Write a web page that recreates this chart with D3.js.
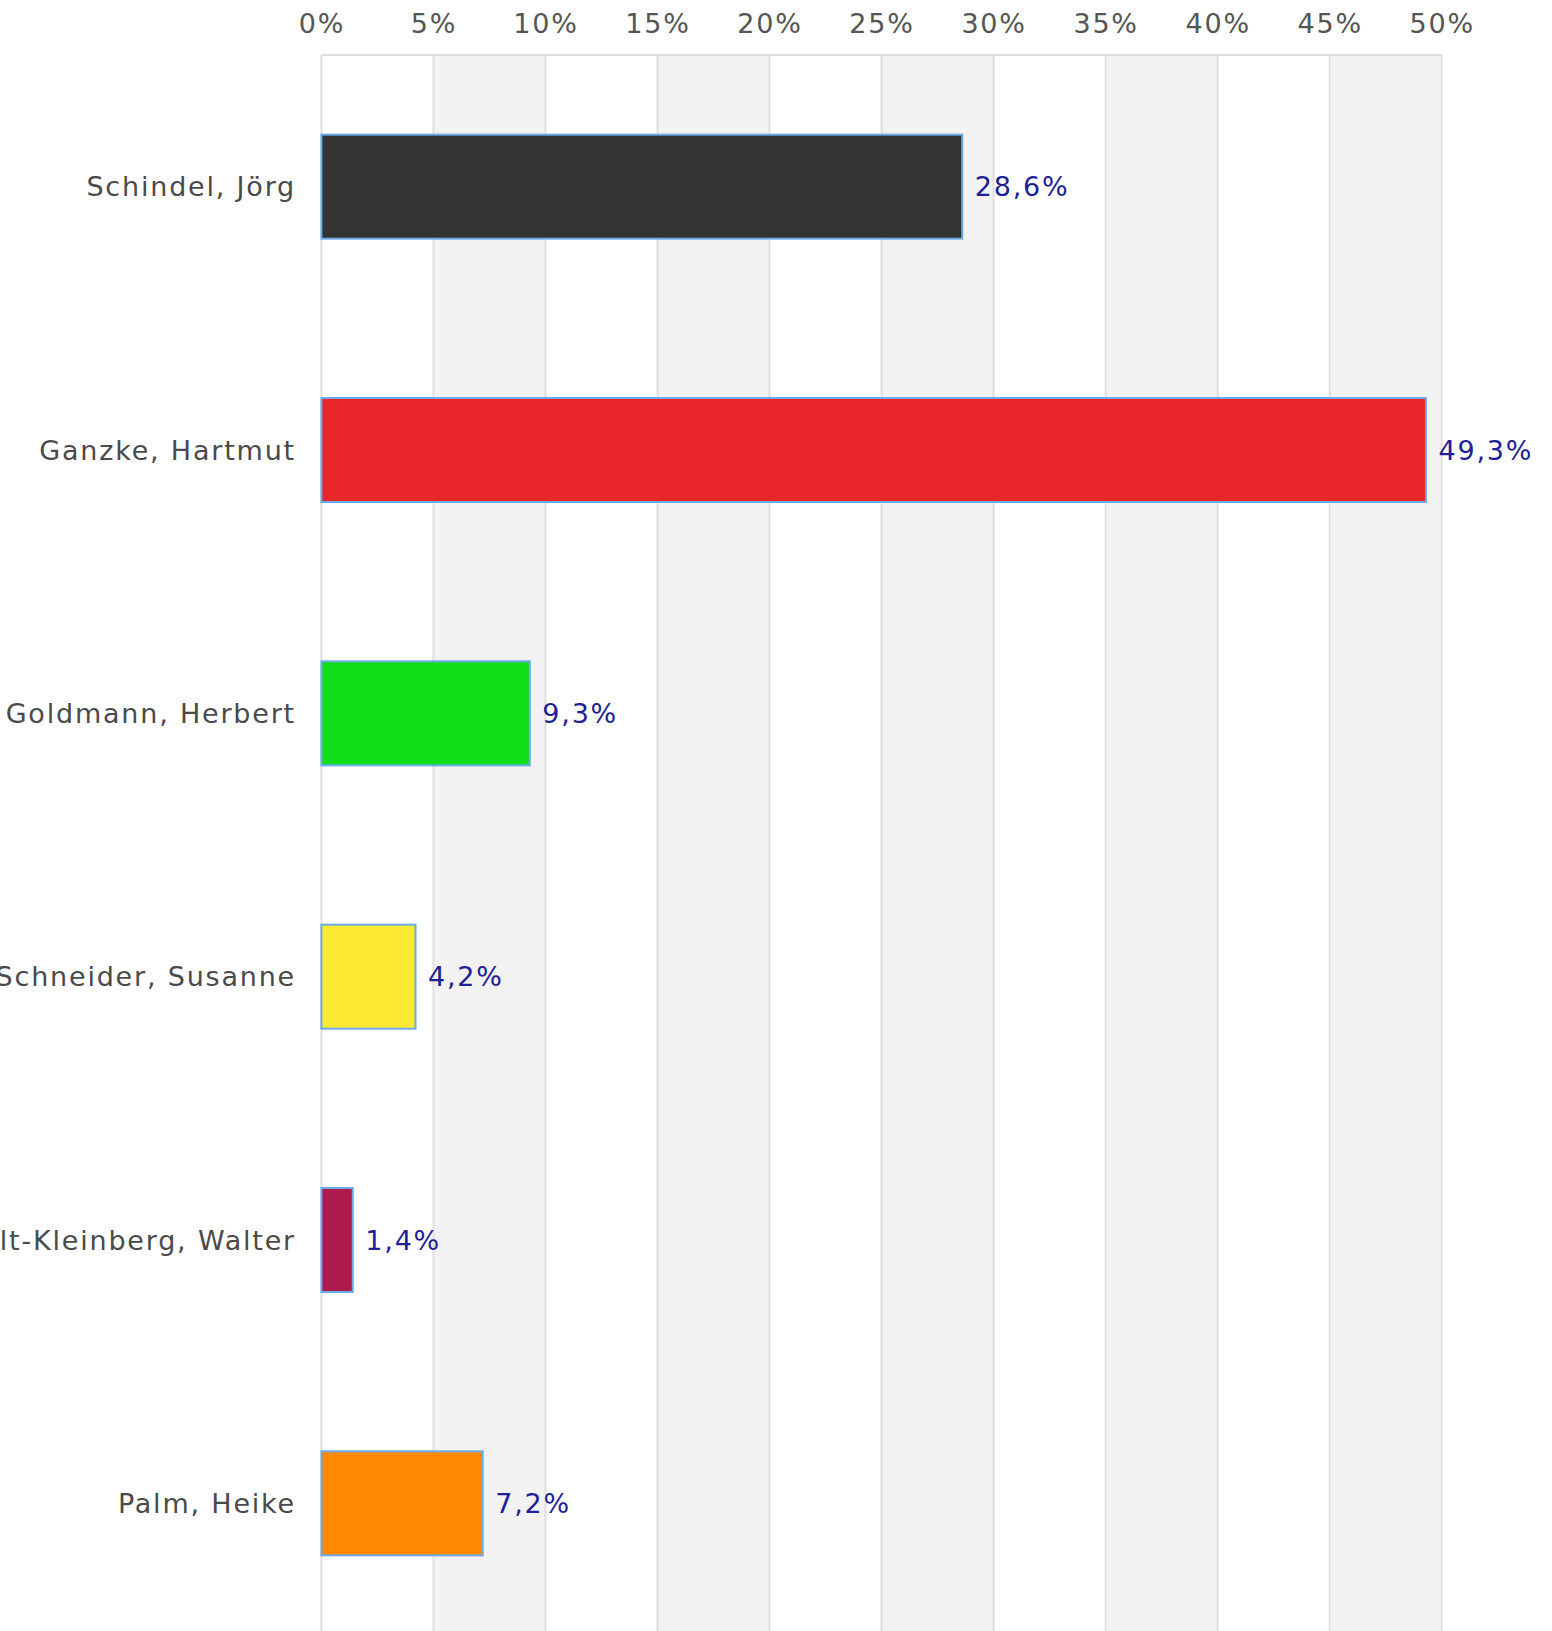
<!DOCTYPE html>
<html>
<head>
<meta charset="utf-8">
<script src="https://cdn.jsdelivr.net/npm/d3@7"></script>
<style>
  body { margin: 0; background: #fff; overflow: hidden; }
  svg text { font-family: "DejaVu Sans", Verdana, sans-serif; font-size: 27px; letter-spacing: 1.8px; }
</style>
</head>
<body>
<div id="chart"></div>
<script>
// candidates and their share of the vote (percent)
var names = ["Schindel, Jörg", "Ganzke, Hartmut", "Goldmann, Herbert", "Schneider, Susanne", "Holt-Kleinberg, Walter", "Palm, Heike"];
var shares = [28.6, 49.3, 9.3, 4.2, 1.4, 7.2];
var barColors = ["#333333", "#e9272a", "#0fde19", "#fbea31", "#ad1a4e", "#ff8800"];
var ticks = [0, 5, 10, 15, 20, 25, 30, 35, 40, 45, 50];

var width = 1552, height = 1631;
// note: "top" is taken by window.top, so plot edges get their own names
var plotLeft = 321.4, plotRight = 1441.7, plotTop = 55, plotBottom = 1635;

var svg = d3.select("#chart").append("svg")
    .attr("width", width)
    .attr("height", height);

var x = d3.scaleLinear().domain([0, 50]).range([plotLeft, plotRight]);
var y = d3.scaleBand().domain(names).range([plotTop, plotBottom])
    .paddingInner(0.605).paddingOuter(0.3025);

// alternating grey stripes between ticks
var stripes = ticks.slice(0, -1).filter(function (d, i) { return i % 2 == 1; });
svg.append("g").selectAll("rect")
    .data(stripes)
    .enter().append("rect")
    .attr("x", function (d) { return x(d); })
    .attr("y", plotTop)
    .attr("width", function (d) { return x(d + 5) - x(d); })
    .attr("height", plotBottom - plotTop)
    .attr("fill", "#f2f2f2");

// vertical grid lines
svg.append("g").selectAll("line")
    .data(ticks)
    .enter().append("line")
    .attr("x1", function (d) { return x(d); })
    .attr("x2", function (d) { return x(d); })
    .attr("y1", plotTop)
    .attr("y2", plotBottom)
    .attr("stroke", "#dfdfdf")
    .attr("stroke-width", 2);

svg.append("line")
    .attr("x1", plotLeft).attr("x2", plotRight)
    .attr("y1", plotTop).attr("y2", plotTop)
    .attr("stroke", "#dfdfdf")
    .attr("stroke-width", 2);

// top axis, tick labels only
var xAxis = d3.axisTop(x)
    .tickValues(ticks)
    .tickSize(0)
    .tickPadding(0)
    .tickFormat(function (d) { return d + "%"; });

var ax = svg.append("g")
    .attr("transform", "translate(0,33)")
    .call(xAxis);
ax.select(".domain").remove();
ax.selectAll("text")
    .attr("dy", 0)
    .attr("fill", "#555555")
    .style("font-family", "DejaVu Sans")
    .style("font-size", "27px");

// category labels
var yAxis = d3.axisLeft(y).tickSize(0).tickPadding(0);
var ay = svg.append("g")
    .attr("transform", "translate(296,0)")
    .call(yAxis);
ay.select(".domain").remove();
ay.selectAll("text")
    .attr("dy", "0.36em")
    .attr("fill", "#4a4a4a")
    .style("font-family", "DejaVu Sans")
    .style("font-size", "27px");

// bars
var bars = svg.append("g").selectAll("g")
    .data(names)
    .enter().append("g");

bars.append("rect")
    .attr("x", x(0))
    .attr("y", function (d) { return y(d); })
    .attr("width", function (d, i) { return x(shares[i]) - x(0); })
    .attr("height", y.bandwidth())
    .attr("fill", function (d, i) { return barColors[i]; })
    .attr("stroke", "#6aabea")
    .attr("stroke-width", 2);

bars.append("text")
    .attr("x", function (d, i) { return x(shares[i]) + 12.5; })
    .attr("y", function (d) { return y(d) + y.bandwidth() / 2; })
    .attr("dy", "0.36em")
    .attr("fill", "#1f1f96")
    .text(function (d, i) { return String(shares[i]).replace(".", ",") + "%"; });
</script>
</body>
</html>
